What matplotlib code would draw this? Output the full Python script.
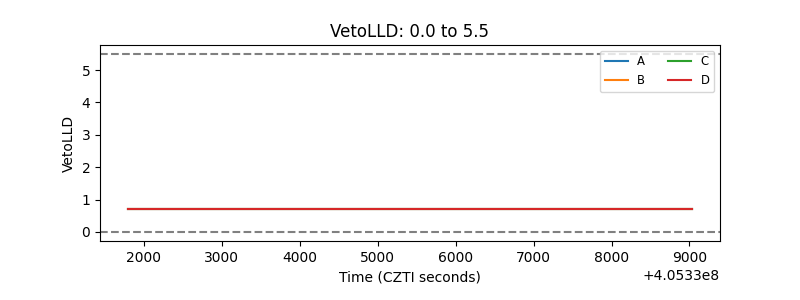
import matplotlib
matplotlib.use("Agg")
import matplotlib.pyplot as plt

time = [405331800, 405339030]
series = {
    "A": [0.7, 0.7],
    "B": [0.7, 0.7],
    "C": [0.7, 0.7],
    "D": [0.7, 0.7],
}
lower, upper = 0.0, 5.5

fig, ax = plt.subplots(figsize=(8, 3), dpi=100)
fig.subplots_adjust(left=0.125, right=0.9, bottom=0.197, top=0.85)
for name, vals in series.items():
    ax.plot(time, vals, label=name)
ax.axhline(lower, color="gray", linestyle="--")
ax.axhline(upper, color="gray", linestyle="--")
ax.set_title(f"VetoLLD: {lower} to {upper}")
ax.set_xlabel("Time (CZTI seconds)")
ax.set_ylabel("VetoLLD")
ax.legend(loc="upper right", ncol=2, fontsize="small")
fig.savefig("out.png")
